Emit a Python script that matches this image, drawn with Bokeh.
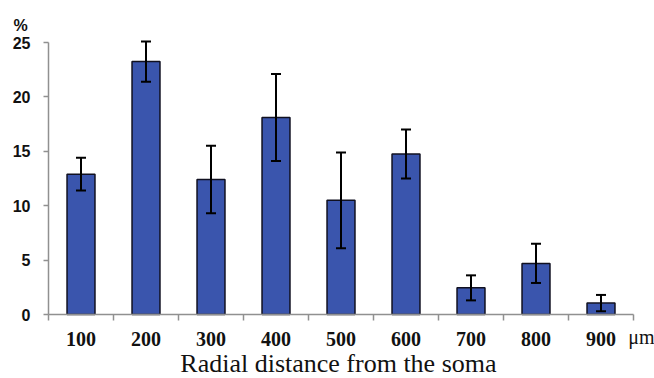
from bokeh.plotting import figure
from bokeh.models import ColumnDataSource, Whisker, FixedTicker, Label, Range1d, TeeHead
from bokeh.embed import file_html
from bokeh.resources import INLINE

distances = ["100", "200", "300", "400", "500", "600", "700", "800", "900"]
means = [12.9, 23.25, 12.4, 18.1, 10.5, 14.75, 2.45, 4.7, 1.05]
errors = [1.5, 1.85, 3.1, 4.0, 4.4, 2.25, 1.15, 1.8, 0.75]
y_ticks = [0, 5, 10, 15, 20, 25]

xs = list(range(1, len(distances) + 1))
src = ColumnDataSource(dict(
    x=xs, mean=means,
    upper=[m + e for m, e in zip(means, errors)],
    lower=[m - e for m, e in zip(means, errors)],
))

# frame spans the whole canvas; axes are pinned at x=0.5 and y=0
p = figure(width=654, height=378, output_backend="svg", toolbar_location=None,
           x_range=Range1d(-0.2385, 9.823), y_range=Range1d(-5.88, 28.86),
           min_border_left=0, min_border_right=0, min_border_top=0, min_border_bottom=0)
p.outline_line_color = None
p.xgrid.grid_line_color = None
p.ygrid.grid_line_color = None

p.vbar(x="x", top="mean", width=0.43, bottom=0, source=src,
       fill_color="#3A55AD", line_color="#101020", line_width=1.5)

w = Whisker(base="x", upper="upper", lower="lower", source=src, level="overlay",
            line_color="black", line_width=2,
            upper_head=TeeHead(size=10, line_width=2, line_color="black"),
            lower_head=TeeHead(size=10, line_width=2, line_color="black"))
p.add_layout(w)

axis_col = "#909090"
# x axis
xa = p.xaxis[0]
xa.fixed_location = 0
xa.bounds = (0.5, len(distances) + 0.5)
xa.ticker = FixedTicker(ticks=xs, minor_ticks=[x - 0.5 for x in xs] + [xs[-1] + 0.5])
xa.major_label_overrides = {x: d for x, d in zip(xs, distances)}
xa.major_tick_line_color = None
xa.major_tick_out = 0
xa.major_tick_in = 0
xa.minor_tick_out = 6
xa.minor_tick_in = 0
xa.minor_tick_line_color = axis_col
xa.minor_tick_line_width = 1.5
xa.axis_line_color = axis_col
xa.axis_line_width = 1.5
xa.major_label_standoff = 11
xa.major_label_text_font = "Liberation Serif"
xa.major_label_text_font_style = "bold"
xa.major_label_text_font_size = "20px"
xa.major_label_text_color = "#111111"

# y axis
ya = p.yaxis[0]
ya.fixed_location = 0.5
ya.bounds = (0, 25)
ya.ticker = FixedTicker(ticks=y_ticks)
ya.minor_tick_line_color = None
ya.major_tick_out = 5
ya.major_tick_in = 0
ya.major_tick_line_color = axis_col
ya.major_tick_line_width = 1.5
ya.axis_line_color = axis_col
ya.axis_line_width = 1.5
ya.major_label_standoff = 13
ya.major_label_text_font = "Liberation Sans"
ya.major_label_text_font_style = "bold"
ya.major_label_text_font_size = "16px"
ya.major_label_text_color = "#111111"

# texts
p.add_layout(Label(x=0.07, y=26.6, text="%", text_align="center", text_baseline="middle",
                   text_font="Liberation Sans", text_font_style="bold",
                   text_font_size="16px", text_color="#111111"))
p.add_layout(Label(x=9.62, y=-2.02, text="μm", text_align="center", text_baseline="middle",
                   text_font="Liberation Serif",
                   text_font_size="20px", text_color="#111111"))
p.add_layout(Label(x=4.96, y=-4.5, text="Radial distance from the soma", text_align="center",
                   text_baseline="middle", text_font="Liberation Serif",
                   text_font_size="26px", text_color="#111111"))

open("out.html", "w").write(file_html(p, INLINE))
